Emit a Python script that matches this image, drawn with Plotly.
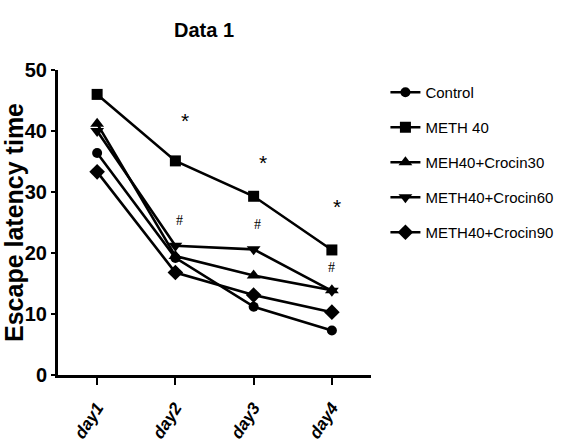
import plotly.graph_objects as go

days = ["day1", "day2", "day3", "day4"]
day_pos = [1, 2, 3, 4]

control = [36.4, 19.2, 11.2, 7.3]
meth40 = [46.0, 35.1, 29.3, 20.5]
crocin30 = [41.2, 19.5, 16.3, 13.9]
crocin60 = [40.0, 21.2, 20.6, 13.8]
crocin90 = [33.3, 16.8, 13.1, 10.3]

series_names = ["Control", "METH 40", "MEH40+Crocin30", "METH40+Crocin60", "METH40+Crocin90"]
series_values = [control, meth40, crocin30, crocin60, crocin90]
series_symbols = ["circle", "square", "triangle-up", "triangle-down", "diamond"]
series_sizes = [10, 11, 12, 12, 12]

star_x = [2.12, 3.12, 4.07]
star_y = [41.8, 34.9, 27.7]
hash_x = [2.05, 3.05, 4.0]
hash_y = [25.4, 24.6, 17.7]

SANS = "Liberation Sans, Arial, sans-serif"

fig = go.Figure()
for i, (name, vals, sym, sz) in enumerate(zip(series_names, series_values, series_symbols, series_sizes)):
    fig.add_trace(go.Scatter(
        x=day_pos, y=vals, name=name, mode="lines+markers",
        line=dict(color="black", width=2.6),
        marker=dict(symbol=sym, size=sz, color="black"),
        legendgroup=f"g{i}",
    ))

for x, y in zip(star_x, star_y):
    fig.add_annotation(x=x, y=y, text="*", showarrow=False,
                       font=dict(family=SANS, size=21, color="black"))
for x, y in zip(hash_x, hash_y):
    fig.add_annotation(x=x, y=y, text="#", showarrow=False,
                       font=dict(family="Liberation Serif, Times New Roman", size=14, color="black"))

fig.update_layout(
    width=571, height=444,
    margin=dict(l=58, r=200, t=70, b=69, autoexpand=False),
    paper_bgcolor="white", plot_bgcolor="white",
    title=dict(text="<b>Data 1</b>", x=(204 / 571), xanchor="center", y=1 - 30 / 444, yanchor="middle",
               font=dict(family=SANS, size=20, color="black")),
    showlegend=True,
    legend=dict(xref="container", yref="container", x=0.675, y=1 - 76 / 444, xanchor="left", yanchor="top",
                font=dict(family=SANS, size=15, color="black"),
                tracegroupgap=12.5, bgcolor="rgba(0,0,0,0)"),
    xaxis=dict(range=[0.5, 4.5], tickmode="array", tickvals=day_pos, ticktext=[f"<b><i>{d}</i></b>" for d in days],
               tickangle=-57, showline=True, linecolor="black", linewidth=3,
               ticks="outside", ticklen=7, tickwidth=2, tickcolor="black",
               showgrid=False, zeroline=False, ticklabelstandoff=6, automargin=False,
               tickfont=dict(family=SANS, size=17, color="black")),
    yaxis=dict(range=[0, 50], tickvals=[0, 10, 20, 30, 40, 50],
               ticktext=[f"<b>{v}</b>" for v in [0, 10, 20, 30, 40, 50]],
               showline=True, linecolor="black", linewidth=3,
               ticks="outside", ticklen=4, tickwidth=2, tickcolor="black",
               showgrid=False, zeroline=False, automargin=False,
               tickfont=dict(family=SANS, size=20, color="black"),
               title=dict(text="<b>Escape latency time</b>",
                          font=dict(family=SANS, size=25, color="black"))),
)

fig.write_html("out.html")
